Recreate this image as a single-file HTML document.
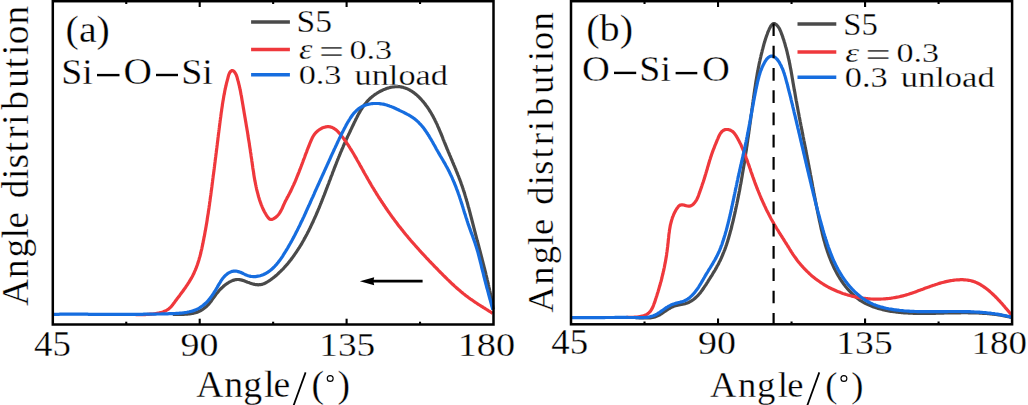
<!DOCTYPE html><html><head><meta charset="utf-8"><title>Angle distribution</title><style>html,body{margin:0;padding:0;background:#fff;overflow:hidden}svg{display:block}text{font-family:"Liberation Serif",serif;fill:#000;stroke:#fff;stroke-width:0.3px}</style></head><body>
<svg width="1028" height="405" viewBox="0 0 1028 405">
<rect width="1028" height="405" fill="#fff"/>
<g fill="none" stroke-width="3.20" stroke-linejoin="round" stroke-linecap="butt">
<path d="M172.8,314.3L174.0,314.3 175.3,314.3 176.5,314.3 177.7,314.3 178.9,314.3 180.1,314.3 181.3,314.3 182.5,314.3 183.7,314.3 185.0,314.2 186.2,314.2 187.3,314.1 188.5,314.0 189.7,313.8 190.9,313.7 192.0,313.5 193.2,313.3 194.3,313.0 195.4,312.7 196.6,312.4 197.7,312.0 198.7,311.5 199.8,311.0 200.8,310.5 201.9,309.9 202.9,309.2 203.9,308.5 204.8,307.8 205.8,307.0 206.7,306.2 207.5,305.4 208.4,304.5 209.2,303.6 209.9,302.7 210.7,301.8 211.4,300.8 212.0,299.9 212.7,298.9 213.4,297.9 214.1,297.0 214.8,296.0 215.5,295.0 216.2,294.1 217.0,293.1 217.8,292.2 218.6,291.2 219.4,290.3 220.2,289.4 221.1,288.5 222.0,287.7 222.9,286.9 223.8,286.0 224.7,285.3 225.7,284.5 226.7,283.8 227.7,283.2 228.7,282.5 229.7,281.9 230.8,281.4 231.8,280.9 232.9,280.4 234.0,280.1 235.1,279.8 236.2,279.6 237.3,279.5 238.4,279.5 239.5,279.6 240.7,279.8 241.8,280.1 242.9,280.4 244.1,280.8 245.2,281.3 246.4,281.7 247.6,282.2 248.8,282.6 249.9,283.0 251.1,283.4 252.3,283.8 253.5,284.1 254.7,284.4 255.9,284.6 257.0,284.7 258.2,284.8 259.3,284.7 260.5,284.6 261.6,284.4 262.7,284.1 263.8,283.7 264.9,283.2 265.9,282.7 267.0,282.1 268.0,281.5 269.0,280.9 270.0,280.2 271.0,279.5 272.0,278.7 273.0,278.0 274.0,277.2 274.9,276.5 275.8,275.7 276.8,274.9 277.7,274.1 278.6,273.3 279.4,272.4 280.3,271.6 281.2,270.8 282.0,269.9 282.9,269.1 283.7,268.2 284.5,267.3 285.3,266.4 286.1,265.5 286.9,264.6 287.7,263.7 288.4,262.8 289.2,261.9 289.9,260.9 290.7,260.0 291.4,259.0 292.1,258.1 292.8,257.1 293.5,256.1 294.2,255.2 294.9,254.2 295.6,253.2 296.3,252.2 296.9,251.2 297.6,250.2 298.2,249.2 298.9,248.2 299.5,247.2 300.1,246.2 300.8,245.1 301.4,244.1 302.0,243.1 302.6,242.0 303.2,241.0 303.8,240.0 304.3,238.9 304.9,237.9 305.5,236.8 306.1,235.8 306.6,234.7 307.2,233.7 307.7,232.6 308.3,231.5 308.8,230.5 309.3,229.4 309.9,228.3 310.4,227.3 310.9,226.2 311.4,225.1 311.9,224.0 312.4,222.9 313.0,221.9 313.4,220.8 313.9,219.7 314.4,218.6 314.9,217.5 315.4,216.4 315.9,215.3 316.4,214.2 316.8,213.1 317.3,212.0 317.8,210.9 318.2,209.8 318.7,208.7 319.2,207.6 319.6,206.5 320.1,205.3 320.5,204.2 321.0,203.1 321.4,202.0 321.9,200.9 322.3,199.8 322.7,198.7 323.2,197.5 323.6,196.4 324.1,195.3 324.5,194.2 324.9,193.1 325.4,191.9 325.8,190.8 326.2,189.7 326.6,188.6 327.1,187.4 327.5,186.3 327.9,185.2 328.4,184.1 328.8,183.0 329.2,181.8 329.6,180.7 330.1,179.6 330.5,178.5 330.9,177.3 331.3,176.2 331.8,175.1 332.2,174.0 332.6,172.8 333.0,171.7 333.5,170.6 333.9,169.5 334.3,168.4 334.8,167.2 335.2,166.1 335.6,165.0 336.1,163.9 336.5,162.8 336.9,161.7 337.4,160.5 337.8,159.4 338.3,158.3 338.7,157.2 339.2,156.1 339.6,155.0 340.1,153.9 340.5,152.8 341.0,151.7 341.5,150.6 341.9,149.5 342.4,148.4 342.9,147.3 343.3,146.2 343.8,145.1 344.3,144.0 344.8,142.9 345.3,141.9 345.8,140.8 346.2,139.7 346.7,138.6 347.2,137.5 347.7,136.4 348.2,135.4 348.7,134.3 349.3,133.2 349.8,132.1 350.3,131.0 350.8,129.9 351.3,128.9 351.8,127.8 352.3,126.7 352.9,125.6 353.4,124.5 353.9,123.4 354.4,122.3 355.0,121.2 355.5,120.1 356.0,119.0 356.6,117.9 357.1,116.9 357.7,115.8 358.2,114.7 358.8,113.6 359.4,112.6 360.0,111.6 360.6,110.5 361.2,109.5 361.9,108.5 362.5,107.5 363.2,106.5 363.9,105.6 364.6,104.6 365.3,103.7 366.1,102.8 366.8,101.9 367.6,101.0 368.4,100.2 369.2,99.3 370.1,98.5 370.9,97.7 371.8,97.0 372.7,96.2 373.7,95.5 374.6,94.8 375.6,94.1 376.6,93.5 377.6,92.8 378.7,92.2 379.7,91.6 380.8,91.0 382.0,90.5 383.1,89.9 384.2,89.4 385.4,89.0 386.6,88.5 387.8,88.1 389.0,87.8 390.2,87.4 391.4,87.2 392.6,86.9 393.8,86.8 395.0,86.6 396.2,86.6 397.3,86.6 398.5,86.6 399.7,86.7 400.8,86.9 401.9,87.1 403.0,87.3 404.1,87.7 405.2,88.0 406.3,88.4 407.4,88.9 408.4,89.4 409.4,89.9 410.5,90.5 411.5,91.1 412.4,91.7 413.4,92.4 414.4,93.1 415.3,93.9 416.3,94.6 417.2,95.4 418.1,96.3 419.0,97.1 419.8,98.0 420.7,98.9 421.5,99.8 422.3,100.7 423.1,101.6 423.9,102.6 424.7,103.5 425.4,104.5 426.1,105.5 426.9,106.5 427.6,107.4 428.2,108.4 428.9,109.4 429.5,110.5 430.2,111.5 430.8,112.5 431.4,113.5 432.0,114.6 432.6,115.6 433.2,116.7 433.7,117.7 434.3,118.8 434.8,119.8 435.3,120.9 435.9,122.0 436.4,123.1 436.9,124.1 437.4,125.2 437.8,126.3 438.3,127.4 438.8,128.5 439.3,129.6 439.7,130.7 440.2,131.8 440.7,132.9 441.1,134.0 441.6,135.1 442.0,136.2 442.5,137.3 442.9,138.5 443.3,139.6 443.8,140.7 444.2,141.8 444.7,142.9 445.1,144.0 445.6,145.1 446.0,146.2 446.5,147.4 446.9,148.5 447.4,149.6 447.9,150.7 448.3,151.8 448.8,152.9 449.3,154.0 449.7,155.1 450.2,156.2 450.7,157.3 451.1,158.4 451.6,159.5 452.1,160.6 452.5,161.8 453.0,162.9 453.5,164.0 453.9,165.1 454.4,166.2 454.9,167.3 455.3,168.4 455.8,169.5 456.2,170.6 456.7,171.7 457.1,172.9 457.6,174.0 458.0,175.1 458.5,176.2 458.9,177.3 459.3,178.4 459.8,179.6 460.2,180.7 460.6,181.8 461.0,182.9 461.4,184.1 461.8,185.2 462.2,186.3 462.6,187.5 463.0,188.6 463.3,189.7 463.7,190.9 464.1,192.0 464.4,193.1 464.8,194.3 465.1,195.4 465.5,196.6 465.8,197.7 466.2,198.9 466.5,200.0 466.8,201.2 467.2,202.3 467.5,203.5 467.8,204.6 468.1,205.8 468.4,207.0 468.8,208.1 469.1,209.3 469.4,210.4 469.7,211.6 470.0,212.7 470.3,213.9 470.6,215.1 470.9,216.2 471.2,217.4 471.5,218.5 471.8,219.7 472.1,220.9 472.4,222.0 472.7,223.2 473.0,224.4 473.3,225.5 473.6,226.7 473.9,227.8 474.2,229.0 474.5,230.2 474.8,231.3 475.1,232.5 475.4,233.6 475.7,234.8 476.0,236.0 476.3,237.1 476.6,238.3 476.9,239.4 477.2,240.6 477.6,241.8 477.9,242.9 478.2,244.1 478.5,245.2 478.8,246.4 479.1,247.6 479.4,248.7 479.7,249.9 480.0,251.0 480.3,252.2 480.6,253.4 480.9,254.5 481.2,255.7 481.5,256.8 481.8,258.0 482.1,259.2 482.4,260.3 482.7,261.5 483.0,262.6 483.3,263.8 483.6,265.0 483.9,266.1 484.2,267.3 484.5,268.5 484.8,269.6 485.1,270.8 485.4,271.9 485.7,273.1 485.9,274.3 486.2,275.4 486.5,276.6 486.8,277.8 487.1,278.9 487.3,280.1 487.6,281.3 487.9,282.4 488.2,283.6 488.4,284.8 488.7,285.9 488.9,287.1 489.2,288.3 489.5,289.5 489.7,290.6 490.0,291.8 490.2,293.0 490.4,294.2 490.7,295.3 490.9,296.5 491.2,297.7 491.4,298.9 491.6,300.0 491.8,301.2 492.1,302.4 492.3,303.6 492.5,304.8 492.7,305.9 492.9,307.1 493.1,308.3 493.3,309.5" stroke="#4a4a4a"/>
<path d="M135.6,314.7L136.8,314.7 138.0,314.7 139.2,314.7 140.4,314.7 141.6,314.7 142.8,314.6 144.0,314.6 145.2,314.6 146.4,314.5 147.6,314.4 148.8,314.3 150.0,314.2 151.2,314.1 152.4,314.0 153.6,313.9 154.7,313.7 155.9,313.5 157.1,313.3 158.3,313.1 159.4,312.9 160.6,312.6 161.7,312.3 162.9,311.9 163.9,311.5 165.0,311.1 166.0,310.6 167.0,310.0 168.0,309.4 168.9,308.7 169.8,307.9 170.7,307.1 171.5,306.2 172.3,305.3 173.0,304.3 173.8,303.3 174.5,302.3 175.2,301.3 176.0,300.3 176.7,299.3 177.5,298.3 178.2,297.3 178.9,296.4 179.7,295.4 180.4,294.4 181.1,293.4 181.8,292.5 182.6,291.5 183.3,290.5 184.0,289.5 184.7,288.6 185.4,287.6 186.0,286.6 186.7,285.6 187.4,284.6 188.0,283.6 188.7,282.6 189.3,281.6 189.9,280.6 190.5,279.6 191.1,278.6 191.7,277.6 192.3,276.5 192.8,275.5 193.3,274.4 193.9,273.4 194.3,272.3 194.8,271.2 195.3,270.1 195.7,269.0 196.2,267.9 196.6,266.8 197.0,265.7 197.4,264.6 197.8,263.4 198.2,262.3 198.5,261.2 198.9,260.0 199.2,258.9 199.5,257.7 199.9,256.5 200.2,255.4 200.5,254.2 200.8,253.0 201.0,251.8 201.3,250.7 201.6,249.5 201.9,248.3 202.1,247.1 202.4,245.9 202.6,244.7 202.9,243.5 203.1,242.4 203.3,241.2 203.6,240.0 203.8,238.8 204.0,237.6 204.3,236.4 204.5,235.2 204.7,234.1 204.9,232.9 205.1,231.7 205.4,230.5 205.6,229.3 205.8,228.1 206.0,227.0 206.2,225.8 206.4,224.6 206.6,223.4 206.8,222.2 207.0,221.0 207.2,219.9 207.3,218.7 207.5,217.5 207.7,216.3 207.9,215.1 208.1,214.0 208.3,212.8 208.4,211.6 208.6,210.4 208.8,209.2 209.0,208.0 209.1,206.9 209.3,205.7 209.5,204.5 209.6,203.3 209.8,202.1 210.0,200.9 210.1,199.8 210.3,198.6 210.4,197.4 210.6,196.2 210.8,195.0 210.9,193.8 211.1,192.7 211.2,191.5 211.4,190.3 211.6,189.1 211.7,187.9 211.9,186.7 212.0,185.5 212.2,184.3 212.3,183.2 212.5,182.0 212.6,180.8 212.8,179.6 212.9,178.4 213.1,177.2 213.2,176.0 213.4,174.8 213.6,173.6 213.7,172.4 213.9,171.3 214.0,170.1 214.2,168.9 214.3,167.7 214.5,166.5 214.6,165.3 214.8,164.1 214.9,162.9 215.1,161.7 215.2,160.5 215.4,159.3 215.5,158.1 215.7,157.0 215.8,155.8 216.0,154.6 216.1,153.4 216.3,152.2 216.4,151.0 216.6,149.8 216.7,148.6 216.9,147.4 217.0,146.2 217.2,145.0 217.3,143.8 217.5,142.6 217.6,141.4 217.8,140.3 217.9,139.1 218.0,137.9 218.2,136.7 218.3,135.5 218.5,134.3 218.6,133.1 218.8,131.9 218.9,130.7 219.1,129.5 219.2,128.4 219.4,127.2 219.5,126.0 219.7,124.8 219.8,123.6 220.0,122.4 220.1,121.2 220.3,120.0 220.4,118.9 220.6,117.7 220.8,116.5 220.9,115.3 221.1,114.1 221.2,112.9 221.4,111.7 221.6,110.6 221.7,109.4 221.9,108.2 222.1,107.0 222.3,105.8 222.4,104.6 222.6,103.4 222.8,102.3 223.0,101.1 223.2,99.9 223.4,98.7 223.6,97.5 223.8,96.3 224.0,95.1 224.3,94.0 224.5,92.8 224.7,91.6 224.9,90.4 225.2,89.2 225.4,88.1 225.7,86.9 226.0,85.7 226.2,84.6 226.5,83.4 226.8,82.2 227.1,81.1 227.4,79.9 227.7,78.8 228.0,77.6 228.3,76.4 228.6,75.3 229.0,74.2 229.5,73.1 230.1,72.0 231.0,71.1 232.1,70.5 233.1,70.8 234.1,71.6 234.9,72.6 235.6,73.7 236.2,74.8 236.6,75.9 237.0,77.0 237.3,78.1 237.6,79.3 237.9,80.4 238.3,81.6 238.5,82.7 238.8,83.9 239.1,85.1 239.4,86.2 239.6,87.4 239.9,88.6 240.1,89.7 240.4,90.9 240.6,92.1 240.8,93.3 241.0,94.4 241.3,95.6 241.5,96.8 241.7,98.0 241.9,99.2 242.1,100.4 242.3,101.5 242.5,102.7 242.7,103.9 242.9,105.1 243.1,106.3 243.3,107.5 243.5,108.6 243.7,109.8 243.9,111.0 244.1,112.2 244.3,113.4 244.5,114.6 244.7,115.7 244.9,116.9 245.1,118.1 245.3,119.3 245.5,120.5 245.7,121.6 245.9,122.8 246.1,124.0 246.3,125.2 246.5,126.4 246.7,127.6 246.9,128.7 247.1,129.9 247.3,131.1 247.5,132.3 247.7,133.5 247.9,134.7 248.0,135.8 248.2,137.0 248.4,138.2 248.6,139.4 248.8,140.6 249.0,141.7 249.2,142.9 249.4,144.1 249.5,145.3 249.7,146.5 249.9,147.7 250.1,148.9 250.3,150.0 250.4,151.2 250.6,152.4 250.8,153.6 251.0,154.8 251.1,156.0 251.3,157.2 251.5,158.4 251.7,159.5 251.8,160.7 252.0,161.9 252.2,163.1 252.3,164.3 252.5,165.5 252.7,166.7 252.8,167.9 253.0,169.1 253.2,170.3 253.4,171.4 253.6,172.6 253.7,173.8 253.9,175.0 254.1,176.2 254.3,177.4 254.5,178.6 254.7,179.7 254.9,180.9 255.2,182.1 255.4,183.3 255.6,184.4 255.9,185.6 256.1,186.8 256.4,187.9 256.6,189.1 256.9,190.3 257.2,191.4 257.5,192.6 257.8,193.7 258.1,194.9 258.4,196.0 258.7,197.2 259.1,198.3 259.4,199.5 259.8,200.6 260.2,201.7 260.6,202.9 261.0,204.0 261.4,205.1 261.9,206.2 262.3,207.3 262.8,208.4 263.3,209.5 263.8,210.6 264.4,211.7 265.0,212.7 265.6,213.8 266.2,214.8 266.9,215.9 267.6,216.9 268.3,217.9 269.1,218.7 270.0,219.3 271.0,219.5 272.2,219.4 273.3,218.9 274.5,218.2 275.6,217.4 276.6,216.6 277.4,215.8 278.3,214.8 279.0,213.9 279.7,212.9 280.3,211.9 280.9,210.9 281.4,209.8 282.0,208.7 282.5,207.7 282.9,206.6 283.4,205.5 283.9,204.4 284.4,203.3 284.9,202.2 285.5,201.1 286.0,200.1 286.6,199.0 287.1,197.9 287.7,196.9 288.3,195.8 288.8,194.8 289.4,193.7 289.9,192.6 290.5,191.6 291.0,190.5 291.5,189.4 292.0,188.3 292.5,187.2 293.0,186.1 293.5,185.1 294.0,184.0 294.5,182.9 295.0,181.8 295.5,180.7 295.9,179.6 296.4,178.4 296.8,177.3 297.3,176.2 297.7,175.1 298.2,174.0 298.6,172.9 299.1,171.8 299.5,170.6 299.9,169.5 300.4,168.4 300.8,167.3 301.2,166.2 301.6,165.0 302.1,163.9 302.5,162.8 302.9,161.7 303.3,160.5 303.7,159.4 304.2,158.3 304.6,157.2 305.0,156.0 305.4,154.9 305.8,153.8 306.3,152.7 306.7,151.6 307.1,150.4 307.5,149.3 308.0,148.2 308.4,147.1 308.9,146.0 309.3,144.9 309.7,143.8 310.2,142.7 310.6,141.6 311.1,140.5 311.6,139.4 312.1,138.3 312.6,137.3 313.2,136.2 313.8,135.2 314.5,134.3 315.3,133.3 316.1,132.4 316.9,131.6 317.9,130.7 318.9,130.0 319.9,129.3 321.1,128.6 322.2,128.0 323.4,127.6 324.6,127.2 325.8,126.9 326.9,126.7 328.1,126.6 329.2,126.7 330.3,126.9 331.4,127.2 332.4,127.6 333.4,128.1 334.3,128.7 335.3,129.3 336.2,130.1 337.1,130.8 338.0,131.7 338.8,132.6 339.6,133.5 340.4,134.5 341.2,135.4 342.0,136.4 342.8,137.4 343.5,138.4 344.2,139.4 345.0,140.4 345.7,141.4 346.4,142.4 347.0,143.4 347.7,144.4 348.4,145.4 349.0,146.4 349.7,147.4 350.3,148.5 350.9,149.5 351.6,150.5 352.2,151.5 352.8,152.5 353.4,153.5 354.0,154.5 354.6,155.6 355.2,156.6 355.8,157.6 356.4,158.6 356.9,159.7 357.5,160.7 358.1,161.7 358.7,162.7 359.3,163.8 359.8,164.8 360.4,165.9 361.0,166.9 361.6,167.9 362.2,169.0 362.8,170.0 363.3,171.1 363.9,172.1 364.5,173.2 365.1,174.2 365.7,175.3 366.3,176.3 366.9,177.4 367.5,178.4 368.1,179.5 368.7,180.5 369.3,181.6 369.9,182.6 370.5,183.6 371.1,184.7 371.7,185.7 372.3,186.8 373.0,187.8 373.6,188.8 374.2,189.9 374.8,190.9 375.5,191.9 376.1,192.9 376.7,194.0 377.4,195.0 378.0,196.0 378.6,197.0 379.3,198.0 379.9,199.0 380.6,200.0 381.2,201.0 381.9,202.0 382.6,203.0 383.2,204.0 383.9,205.0 384.6,206.0 385.2,207.0 385.9,208.0 386.6,209.0 387.3,210.0 387.9,211.0 388.6,211.9 389.3,212.9 390.0,213.9 390.7,214.9 391.4,215.8 392.1,216.8 392.8,217.8 393.5,218.7 394.2,219.7 394.9,220.7 395.7,221.6 396.4,222.6 397.1,223.5 397.8,224.5 398.5,225.4 399.3,226.4 400.0,227.3 400.8,228.3 401.5,229.2 402.2,230.1 403.0,231.1 403.7,232.0 404.5,232.9 405.3,233.9 406.0,234.8 406.8,235.7 407.5,236.6 408.3,237.6 409.1,238.5 409.9,239.4 410.6,240.3 411.4,241.2 412.2,242.1 413.0,243.0 413.8,243.9 414.6,244.8 415.4,245.7 416.2,246.6 417.0,247.5 417.8,248.4 418.6,249.3 419.4,250.2 420.2,251.1 421.0,252.0 421.8,252.9 422.6,253.8 423.5,254.6 424.3,255.5 425.1,256.4 425.9,257.3 426.7,258.2 427.6,259.0 428.4,259.9 429.2,260.8 430.0,261.6 430.9,262.5 431.7,263.4 432.5,264.2 433.4,265.1 434.2,266.0 435.0,266.8 435.9,267.7 436.7,268.5 437.6,269.4 438.4,270.3 439.2,271.1 440.1,272.0 440.9,272.8 441.8,273.7 442.6,274.5 443.4,275.4 444.3,276.2 445.1,277.0 446.0,277.9 446.8,278.7 447.7,279.6 448.6,280.4 449.4,281.2 450.3,282.0 451.1,282.9 452.0,283.7 452.9,284.5 453.8,285.3 454.6,286.1 455.5,286.9 456.4,287.7 457.3,288.5 458.2,289.3 459.1,290.1 460.0,290.8 460.9,291.6 461.8,292.4 462.8,293.1 463.7,293.9 464.6,294.6 465.6,295.4 466.5,296.1 467.5,296.8 468.4,297.5 469.4,298.2 470.4,299.0 471.4,299.6 472.4,300.3 473.4,301.0 474.4,301.7 475.4,302.4 476.4,303.0 477.4,303.7 478.4,304.4 479.4,305.0 480.5,305.7 481.5,306.3 482.5,306.9 483.5,307.6 484.5,308.2 485.6,308.9 486.6,309.5 487.6,310.1 488.6,310.8 489.6,311.4 490.6,312.0 491.6,312.7 492.6,313.3" stroke="#ef383c"/>
<path d="M52.8,314.3L54.0,314.3 55.2,314.3 56.4,314.3 57.6,314.3 58.8,314.3 60.0,314.2 61.2,314.2 62.4,314.2 63.6,314.2 64.8,314.2 66.0,314.2 67.2,314.2 68.4,314.2 69.6,314.2 70.8,314.2 72.0,314.2 73.2,314.2 74.4,314.2 75.6,314.2 76.8,314.2 78.0,314.2 79.2,314.2 80.4,314.2 81.6,314.2 82.7,314.2 83.9,314.2 85.1,314.2 86.3,314.2 87.5,314.2 88.7,314.3 89.9,314.3 91.1,314.3 92.3,314.3 93.5,314.3 94.7,314.3 95.9,314.3 97.1,314.3 98.3,314.3 99.5,314.3 100.7,314.3 101.9,314.3 103.1,314.3 104.3,314.3 105.5,314.3 106.7,314.3 107.9,314.3 109.1,314.3 110.3,314.3 111.5,314.3 112.7,314.3 113.9,314.3 115.1,314.3 116.3,314.3 117.5,314.4 118.7,314.4 119.9,314.4 121.1,314.4 122.3,314.4 123.5,314.4 124.7,314.4 125.9,314.3 127.1,314.3 128.3,314.3 129.5,314.3 130.7,314.3 131.9,314.3 133.1,314.3 134.3,314.3 135.5,314.3 136.7,314.3 137.9,314.3 139.1,314.3 140.3,314.3 141.5,314.3 142.7,314.3 143.9,314.2 145.1,314.2 146.3,314.2 147.5,314.2 148.7,314.2 149.8,314.2 151.0,314.1 152.2,314.1 153.4,314.1 154.6,314.1 155.8,314.1 157.0,314.0 158.2,314.0 159.4,314.0 160.6,314.0 161.8,313.9 163.0,313.9 164.2,313.9 165.4,313.8 166.6,313.8 167.8,313.8 169.0,313.7 170.2,313.7 171.4,313.6 172.6,313.6 173.8,313.6 175.0,313.5 176.2,313.4 177.4,313.4 178.6,313.3 179.8,313.2 180.9,313.1 182.1,313.0 183.3,312.8 184.5,312.7 185.7,312.5 186.9,312.3 188.1,312.0 189.2,311.8 190.4,311.5 191.6,311.2 192.8,310.9 193.9,310.5 195.0,310.1 196.1,309.6 197.2,309.1 198.3,308.6 199.3,308.0 200.3,307.3 201.3,306.7 202.3,306.0 203.2,305.3 204.1,304.5 205.0,303.7 205.9,302.9 206.8,302.1 207.6,301.2 208.4,300.3 209.2,299.4 209.9,298.5 210.6,297.6 211.3,296.6 212.0,295.6 212.7,294.6 213.4,293.6 214.0,292.6 214.6,291.6 215.3,290.6 215.9,289.6 216.5,288.5 217.1,287.5 217.7,286.4 218.3,285.4 218.9,284.4 219.5,283.3 220.2,282.3 220.8,281.2 221.5,280.2 222.2,279.2 222.9,278.2 223.7,277.3 224.5,276.4 225.3,275.5 226.3,274.7 227.2,273.9 228.2,273.2 229.3,272.6 230.3,272.1 231.4,271.6 232.5,271.3 233.7,271.1 234.8,271.0 235.9,271.1 237.0,271.3 238.1,271.6 239.3,271.9 240.4,272.3 241.5,272.8 242.6,273.3 243.8,273.9 244.9,274.4 246.1,274.9 247.2,275.4 248.4,275.8 249.6,276.1 250.8,276.4 252.0,276.5 253.2,276.6 254.4,276.6 255.6,276.6 256.7,276.4 257.9,276.2 259.1,276.0 260.2,275.7 261.4,275.3 262.5,274.9 263.6,274.5 264.6,274.0 265.6,273.5 266.7,272.9 267.6,272.3 268.6,271.7 269.5,271.0 270.5,270.3 271.4,269.6 272.2,268.8 273.1,268.0 273.9,267.2 274.8,266.3 275.6,265.4 276.4,264.6 277.1,263.6 277.9,262.7 278.6,261.8 279.4,260.8 280.1,259.8 280.8,258.8 281.5,257.8 282.2,256.8 282.9,255.8 283.5,254.7 284.2,253.7 284.8,252.6 285.5,251.6 286.1,250.5 286.8,249.5 287.4,248.5 288.0,247.4 288.6,246.4 289.2,245.3 289.8,244.2 290.4,243.2 291.0,242.1 291.6,241.1 292.2,240.0 292.7,239.0 293.3,237.9 293.9,236.9 294.4,235.8 295.0,234.7 295.5,233.7 296.1,232.6 296.6,231.5 297.2,230.5 297.7,229.4 298.2,228.4 298.7,227.3 299.3,226.2 299.8,225.2 300.3,224.1 300.8,223.0 301.3,221.9 301.9,220.9 302.4,219.8 302.9,218.7 303.4,217.6 303.9,216.6 304.4,215.5 304.9,214.4 305.4,213.3 305.9,212.3 306.3,211.2 306.8,210.1 307.3,209.0 307.8,207.9 308.3,206.8 308.8,205.8 309.3,204.7 309.8,203.6 310.3,202.5 310.7,201.4 311.2,200.3 311.7,199.2 312.2,198.1 312.7,197.1 313.2,196.0 313.7,194.9 314.2,193.8 314.6,192.7 315.1,191.6 315.6,190.5 316.1,189.4 316.6,188.3 317.1,187.2 317.6,186.1 318.1,185.0 318.6,183.9 319.1,182.8 319.6,181.7 320.1,180.6 320.6,179.5 321.1,178.4 321.6,177.3 322.1,176.2 322.6,175.1 323.1,174.0 323.6,172.9 324.1,171.8 324.6,170.7 325.1,169.6 325.6,168.5 326.1,167.4 326.6,166.3 327.1,165.2 327.6,164.1 328.1,163.0 328.6,161.9 329.1,160.8 329.6,159.8 330.1,158.7 330.5,157.6 331.0,156.5 331.5,155.4 332.0,154.3 332.5,153.2 333.0,152.2 333.5,151.1 334.0,150.0 334.5,148.9 335.0,147.9 335.5,146.8 336.0,145.7 336.5,144.7 337.0,143.6 337.5,142.5 338.0,141.4 338.5,140.4 339.0,139.3 339.5,138.2 340.0,137.2 340.5,136.1 341.1,135.1 341.6,134.0 342.1,132.9 342.7,131.9 343.2,130.8 343.8,129.7 344.3,128.6 344.9,127.6 345.5,126.5 346.0,125.4 346.6,124.4 347.2,123.3 347.8,122.2 348.5,121.1 349.1,120.1 349.8,119.0 350.4,118.0 351.1,117.0 351.8,116.0 352.5,115.0 353.3,114.0 354.0,113.1 354.8,112.2 355.7,111.4 356.5,110.5 357.4,109.8 358.3,109.0 359.2,108.3 360.2,107.7 361.1,107.1 362.2,106.5 363.2,106.0 364.3,105.6 365.4,105.1 366.5,104.8 367.6,104.5 368.8,104.2 370.0,104.0 371.1,103.8 372.3,103.6 373.5,103.5 374.7,103.5 375.9,103.5 377.2,103.5 378.4,103.5 379.6,103.6 380.8,103.8 382.0,104.0 383.2,104.2 384.3,104.4 385.5,104.7 386.7,105.0 387.8,105.4 388.9,105.8 390.0,106.2 391.2,106.6 392.3,107.1 393.4,107.5 394.5,108.0 395.6,108.5 396.6,109.0 397.7,109.5 398.8,110.0 399.9,110.6 401.0,111.1 402.1,111.6 403.2,112.1 404.3,112.7 405.3,113.2 406.4,113.8 407.5,114.4 408.5,114.9 409.6,115.5 410.6,116.2 411.6,116.8 412.6,117.4 413.5,118.1 414.5,118.8 415.4,119.6 416.3,120.3 417.2,121.1 418.1,121.9 418.9,122.7 419.7,123.6 420.5,124.4 421.3,125.3 422.1,126.2 422.8,127.1 423.6,128.1 424.3,129.0 425.0,130.0 425.7,131.0 426.4,131.9 427.0,133.0 427.7,134.0 428.3,135.0 429.0,136.0 429.6,137.1 430.2,138.1 430.9,139.2 431.5,140.2 432.1,141.3 432.7,142.3 433.3,143.4 433.9,144.5 434.5,145.5 435.1,146.6 435.6,147.6 436.2,148.7 436.8,149.7 437.4,150.8 438.0,151.8 438.6,152.9 439.2,153.9 439.8,154.9 440.4,156.0 441.0,157.0 441.6,158.0 442.2,159.0 442.8,160.0 443.4,161.1 444.0,162.1 444.6,163.1 445.2,164.1 445.7,165.2 446.3,166.2 446.9,167.2 447.4,168.3 448.0,169.3 448.5,170.4 449.1,171.4 449.6,172.5 450.1,173.6 450.6,174.7 451.2,175.8 451.7,176.9 452.2,177.9 452.6,179.1 453.1,180.2 453.6,181.3 454.1,182.4 454.5,183.5 455.0,184.6 455.4,185.7 455.9,186.9 456.3,188.0 456.7,189.1 457.2,190.3 457.6,191.4 458.0,192.5 458.4,193.7 458.8,194.8 459.2,195.9 459.6,197.1 459.9,198.2 460.3,199.3 460.7,200.5 461.1,201.6 461.4,202.8 461.8,203.9 462.2,205.0 462.5,206.2 462.9,207.3 463.2,208.4 463.6,209.6 463.9,210.7 464.3,211.9 464.6,213.0 465.0,214.1 465.4,215.3 465.7,216.4 466.1,217.6 466.5,218.7 466.8,219.8 467.2,221.0 467.6,222.1 467.9,223.2 468.3,224.4 468.7,225.5 469.1,226.6 469.5,227.7 469.9,228.9 470.3,230.0 470.7,231.1 471.1,232.2 471.5,233.4 472.0,234.5 472.4,235.6 472.8,236.8 473.2,237.9 473.6,239.0 474.0,240.1 474.4,241.3 474.8,242.4 475.2,243.5 475.5,244.7 475.9,245.8 476.3,247.0 476.6,248.1 477.0,249.3 477.3,250.4 477.7,251.5 478.0,252.7 478.3,253.9 478.6,255.0 478.9,256.2 479.2,257.3 479.5,258.5 479.8,259.6 480.1,260.8 480.4,262.0 480.7,263.1 481.0,264.3 481.3,265.5 481.5,266.6 481.8,267.8 482.1,269.0 482.4,270.1 482.7,271.3 483.0,272.4 483.3,273.6 483.6,274.8 483.8,275.9 484.1,277.1 484.4,278.2 484.7,279.4 485.0,280.6 485.3,281.7 485.6,282.9 485.9,284.1 486.2,285.2 486.5,286.4 486.8,287.5 487.1,288.7 487.5,289.8 487.8,291.0 488.1,292.2 488.4,293.3 488.7,294.5 489.0,295.6 489.3,296.8 489.6,297.9 489.9,299.1 490.3,300.3 490.6,301.4 490.9,302.6 491.2,303.7 491.5,304.9 491.8,306.0 492.2,307.2 492.5,308.3 492.8,309.5" stroke="#166ddf"/>
<path d="M635.8,317.7L637.0,317.7 638.2,317.7 639.4,317.8 640.6,317.8 641.9,317.9 643.1,317.9 644.3,318.0 645.5,318.0 646.7,318.0 647.9,318.0 649.1,317.9 650.3,317.8 651.5,317.7 652.6,317.5 653.8,317.2 654.9,316.9 656.0,316.5 657.1,316.1 658.2,315.6 659.2,315.1 660.3,314.5 661.3,313.8 662.3,313.2 663.3,312.5 664.3,311.8 665.3,311.1 666.3,310.4 667.3,309.8 668.3,309.1 669.3,308.5 670.3,308.0 671.3,307.4 672.3,306.9 673.3,306.5 674.4,306.1 675.5,305.7 676.6,305.4 677.8,305.1 679.0,304.9 680.2,304.7 681.4,304.5 682.7,304.2 683.9,304.0 685.1,303.7 686.3,303.3 687.4,302.9 688.5,302.5 689.5,302.0 690.5,301.4 691.5,300.8 692.5,300.2 693.5,299.5 694.4,298.8 695.3,298.0 696.1,297.2 697.0,296.4 697.8,295.6 698.6,294.7 699.4,293.8 700.1,292.9 700.9,291.9 701.6,290.9 702.3,290.0 703.0,289.0 703.7,288.0 704.4,286.9 705.1,285.9 705.8,284.9 706.5,283.8 707.1,282.8 707.8,281.8 708.4,280.7 709.1,279.7 709.7,278.7 710.4,277.7 711.0,276.6 711.7,275.6 712.3,274.6 712.9,273.5 713.5,272.5 714.2,271.5 714.8,270.5 715.4,269.4 716.0,268.4 716.6,267.3 717.1,266.3 717.7,265.3 718.3,264.2 718.8,263.2 719.3,262.1 719.9,261.0 720.4,260.0 720.9,258.9 721.4,257.8 721.9,256.7 722.3,255.6 722.8,254.5 723.2,253.4 723.7,252.3 724.1,251.2 724.6,250.1 725.0,249.0 725.4,247.9 725.8,246.8 726.2,245.6 726.6,244.5 726.9,243.4 727.3,242.2 727.7,241.1 728.0,239.9 728.4,238.8 728.7,237.6 729.0,236.5 729.4,235.3 729.7,234.2 730.0,233.0 730.3,231.9 730.6,230.7 731.0,229.5 731.3,228.4 731.6,227.2 731.8,226.0 732.1,224.9 732.4,223.7 732.7,222.5 733.0,221.4 733.3,220.2 733.5,219.0 733.8,217.9 734.1,216.7 734.3,215.5 734.6,214.3 734.9,213.2 735.1,212.0 735.4,210.8 735.6,209.6 735.9,208.5 736.1,207.3 736.4,206.1 736.6,204.9 736.9,203.8 737.1,202.6 737.4,201.4 737.6,200.2 737.8,199.1 738.1,197.9 738.3,196.7 738.5,195.5 738.8,194.4 739.0,193.2 739.2,192.0 739.5,190.8 739.7,189.7 739.9,188.5 740.1,187.3 740.3,186.1 740.5,184.9 740.8,183.8 741.0,182.6 741.2,181.4 741.4,180.2 741.6,179.0 741.8,177.9 742.0,176.7 742.2,175.5 742.4,174.3 742.6,173.1 742.8,172.0 743.0,170.8 743.2,169.6 743.4,168.4 743.6,167.2 743.8,166.0 744.0,164.9 744.2,163.7 744.4,162.5 744.5,161.3 744.7,160.1 744.9,159.0 745.1,157.8 745.3,156.6 745.5,155.4 745.6,154.2 745.8,153.0 746.0,151.8 746.2,150.7 746.4,149.5 746.5,148.3 746.7,147.1 746.9,145.9 747.1,144.7 747.2,143.6 747.4,142.4 747.6,141.2 747.7,140.0 747.9,138.8 748.1,137.6 748.3,136.4 748.4,135.3 748.6,134.1 748.8,132.9 748.9,131.7 749.1,130.5 749.3,129.3 749.4,128.1 749.6,126.9 749.7,125.8 749.9,124.6 750.1,123.4 750.2,122.2 750.4,121.0 750.6,119.8 750.7,118.6 750.9,117.4 751.0,116.2 751.2,115.1 751.4,113.9 751.5,112.7 751.7,111.5 751.8,110.3 752.0,109.1 752.2,107.9 752.3,106.7 752.5,105.5 752.6,104.4 752.8,103.2 753.0,102.0 753.1,100.8 753.3,99.6 753.5,98.4 753.6,97.2 753.8,96.0 754.0,94.9 754.1,93.7 754.3,92.5 754.5,91.3 754.6,90.1 754.8,88.9 755.0,87.7 755.2,86.5 755.4,85.4 755.5,84.2 755.7,83.0 755.9,81.8 756.1,80.6 756.3,79.4 756.5,78.3 756.7,77.1 756.9,75.9 757.1,74.7 757.3,73.5 757.5,72.4 757.8,71.2 758.0,70.0 758.2,68.8 758.4,67.7 758.7,66.5 758.9,65.3 759.1,64.1 759.4,63.0 759.6,61.8 759.9,60.6 760.1,59.5 760.4,58.3 760.7,57.1 760.9,56.0 761.2,54.8 761.5,53.6 761.8,52.5 762.1,51.3 762.3,50.2 762.7,49.0 763.0,47.8 763.3,46.7 763.6,45.5 763.9,44.4 764.2,43.2 764.6,42.1 764.9,41.0 765.3,39.8 765.6,38.7 766.0,37.5 766.4,36.4 766.8,35.3 767.2,34.2 767.6,33.0 768.0,31.9 768.5,30.8 769.0,29.7 769.5,28.5 770.1,27.4 770.7,26.3 771.5,25.2 772.3,24.3 773.1,23.7 774.1,23.6 775.1,23.9 776.1,24.5 777.0,25.4 777.9,26.3 778.6,27.4 779.3,28.4 779.8,29.5 780.3,30.6 780.8,31.7 781.2,32.8 781.6,34.0 782.1,35.1 782.5,36.2 782.8,37.4 783.2,38.5 783.6,39.6 784.0,40.8 784.3,41.9 784.7,43.1 785.0,44.2 785.3,45.4 785.6,46.5 786.0,47.7 786.3,48.8 786.6,50.0 786.9,51.2 787.2,52.3 787.4,53.5 787.7,54.6 788.0,55.8 788.2,57.0 788.5,58.1 788.8,59.3 789.0,60.5 789.3,61.7 789.5,62.8 789.7,64.0 790.0,65.2 790.2,66.4 790.4,67.5 790.6,68.7 790.9,69.9 791.1,71.1 791.3,72.2 791.5,73.4 791.7,74.6 791.9,75.8 792.1,77.0 792.3,78.2 792.5,79.3 792.7,80.5 792.9,81.7 793.1,82.9 793.3,84.1 793.5,85.2 793.7,86.4 793.9,87.6 794.1,88.8 794.3,90.0 794.6,91.2 794.8,92.3 795.0,93.5 795.2,94.7 795.4,95.9 795.6,97.1 795.8,98.2 796.0,99.4 796.2,100.6 796.5,101.8 796.7,103.0 796.9,104.1 797.1,105.3 797.3,106.5 797.6,107.7 797.8,108.9 798.0,110.0 798.2,111.2 798.4,112.4 798.7,113.6 798.9,114.7 799.1,115.9 799.3,117.1 799.6,118.3 799.8,119.5 800.0,120.6 800.2,121.8 800.5,123.0 800.7,124.2 800.9,125.3 801.2,126.5 801.4,127.7 801.6,128.9 801.9,130.0 802.1,131.2 802.3,132.4 802.6,133.6 802.8,134.7 803.0,135.9 803.2,137.1 803.5,138.3 803.7,139.5 803.9,140.6 804.2,141.8 804.4,143.0 804.6,144.2 804.9,145.3 805.1,146.5 805.3,147.7 805.6,148.9 805.8,150.0 806.0,151.2 806.3,152.4 806.5,153.6 806.7,154.7 806.9,155.9 807.2,157.1 807.4,158.3 807.6,159.5 807.9,160.6 808.1,161.8 808.3,163.0 808.5,164.2 808.8,165.3 809.0,166.5 809.2,167.7 809.4,168.9 809.7,170.1 809.9,171.2 810.1,172.4 810.3,173.6 810.5,174.8 810.8,175.9 811.0,177.1 811.2,178.3 811.4,179.5 811.6,180.7 811.9,181.8 812.1,183.0 812.3,184.2 812.5,185.4 812.7,186.6 813.0,187.7 813.2,188.9 813.4,190.1 813.6,191.3 813.8,192.4 814.1,193.6 814.3,194.8 814.5,196.0 814.7,197.2 815.0,198.3 815.2,199.5 815.4,200.7 815.6,201.9 815.9,203.0 816.1,204.2 816.3,205.4 816.6,206.6 816.8,207.7 817.0,208.9 817.3,210.1 817.5,211.3 817.7,212.4 818.0,213.6 818.2,214.8 818.5,216.0 818.7,217.1 819.0,218.3 819.2,219.5 819.4,220.7 819.7,221.8 820.0,223.0 820.2,224.2 820.5,225.3 820.7,226.5 821.0,227.7 821.2,228.9 821.5,230.0 821.8,231.2 822.1,232.4 822.3,233.5 822.6,234.7 822.9,235.8 823.2,237.0 823.5,238.2 823.8,239.3 824.1,240.5 824.5,241.6 824.8,242.8 825.1,243.9 825.4,245.1 825.8,246.2 826.1,247.4 826.5,248.5 826.9,249.6 827.2,250.8 827.6,251.9 828.0,253.0 828.4,254.2 828.8,255.3 829.2,256.4 829.6,257.5 830.1,258.7 830.5,259.8 831.0,260.9 831.4,262.0 831.9,263.1 832.4,264.2 832.9,265.3 833.4,266.4 833.9,267.5 834.4,268.6 835.0,269.6 835.5,270.7 836.1,271.8 836.6,272.8 837.2,273.9 837.8,274.9 838.4,276.0 839.0,277.0 839.6,278.0 840.3,279.0 840.9,280.0 841.6,281.0 842.3,282.0 843.0,283.0 843.7,284.0 844.4,284.9 845.1,285.9 845.8,286.8 846.6,287.7 847.3,288.6 848.1,289.5 848.9,290.4 849.7,291.3 850.5,292.2 851.4,293.0 852.2,293.9 853.1,294.7 853.9,295.5 854.8,296.3 855.7,297.0 856.7,297.8 857.6,298.5 858.6,299.2 859.5,299.9 860.5,300.6 861.5,301.2 862.6,301.8 863.6,302.4 864.7,303.0 865.8,303.6 866.8,304.1 867.9,304.6 869.1,305.1 870.2,305.6 871.3,306.0 872.4,306.4 873.6,306.9 874.7,307.3 875.8,307.6 877.0,308.0 878.1,308.4 879.3,308.7 880.4,309.0 881.6,309.3 882.7,309.6 883.9,309.9 885.1,310.1 886.2,310.4 887.4,310.6 888.6,310.9 889.7,311.1 890.9,311.3 892.1,311.5 893.3,311.6 894.4,311.8 895.6,312.0 896.8,312.1 898.0,312.2 899.2,312.4 900.4,312.5 901.6,312.6 902.8,312.7 904.0,312.8 905.1,312.9 906.3,312.9 907.5,313.0 908.7,313.1 909.9,313.1 911.1,313.2 912.3,313.2 913.5,313.3 914.7,313.3 915.9,313.3 917.1,313.3 918.3,313.4 919.5,313.4 920.7,313.4 921.9,313.4 923.1,313.4 924.3,313.4 925.5,313.4 926.7,313.4 927.9,313.4 929.1,313.4 930.3,313.3 931.5,313.3 932.7,313.3 933.9,313.3 935.1,313.3 936.3,313.2 937.5,313.2 938.7,313.2 939.9,313.2 941.1,313.1 942.3,313.1 943.5,313.1 944.7,313.0 945.9,313.0 947.1,313.0 948.3,313.0 949.5,312.9 950.7,312.9 951.9,312.9 953.1,312.9 954.3,312.8 955.5,312.8 956.7,312.8 957.9,312.8 959.1,312.8 960.3,312.8 961.5,312.7 962.7,312.7 963.9,312.7 965.1,312.7 966.3,312.7 967.5,312.7 968.7,312.8 969.9,312.8 971.1,312.8 972.3,312.8 973.5,312.8 974.7,312.9 975.9,312.9 977.1,313.0 978.3,313.0 979.5,313.1 980.7,313.1 981.9,313.2 983.0,313.3 984.2,313.3 985.4,313.4 986.6,313.5 987.8,313.6 989.0,313.7 990.2,313.8 991.4,314.0 992.6,314.1 993.8,314.2 994.9,314.4 996.1,314.5 997.3,314.7 998.5,314.9 999.7,315.0 1000.9,315.2 1002.1,315.4 1003.2,315.6 1004.4,315.9 1005.6,316.1 1006.8,316.3 1008.0,316.6 1009.1,316.8 1010.3,317.1 1011.5,317.4" stroke="#4a4a4a"/>
<path d="M621.0,317.5L622.2,317.5 623.4,317.5 624.6,317.5 625.8,317.5 627.1,317.4 628.3,317.4 629.6,317.4 630.8,317.3 632.1,317.3 633.4,317.3 634.7,317.2 636.0,317.1 637.2,317.0 638.5,316.8 639.7,316.7 640.9,316.4 642.1,316.2 643.2,315.9 644.3,315.5 645.4,315.1 646.4,314.6 647.3,314.0 648.2,313.4 649.0,312.7 649.8,311.9 650.5,311.0 651.1,310.1 651.7,309.1 652.3,308.1 652.8,307.0 653.3,305.9 653.7,304.8 654.1,303.6 654.6,302.5 655.0,301.3 655.4,300.1 655.7,298.9 656.1,297.8 656.5,296.6 656.9,295.4 657.2,294.3 657.6,293.1 658.0,291.9 658.3,290.8 658.7,289.6 659.0,288.4 659.3,287.3 659.7,286.1 660.0,285.0 660.3,283.8 660.6,282.6 661.0,281.5 661.3,280.3 661.6,279.2 661.9,278.0 662.1,276.9 662.4,275.7 662.7,274.5 663.0,273.4 663.2,272.2 663.5,271.1 663.8,269.9 664.0,268.7 664.3,267.6 664.5,266.4 664.7,265.2 664.9,264.1 665.2,262.9 665.4,261.7 665.6,260.6 665.8,259.4 666.0,258.2 666.2,257.1 666.4,255.9 666.6,254.7 666.7,253.5 666.9,252.3 667.1,251.2 667.2,250.0 667.4,248.8 667.5,247.6 667.7,246.4 667.8,245.2 667.9,244.0 668.1,242.8 668.2,241.6 668.3,240.4 668.4,239.2 668.6,238.0 668.7,236.8 668.8,235.6 668.9,234.4 669.1,233.2 669.3,232.0 669.4,230.8 669.6,229.6 669.8,228.5 670.0,227.3 670.2,226.1 670.4,224.9 670.7,223.8 671.0,222.6 671.3,221.5 671.6,220.3 672.0,219.2 672.3,218.0 672.7,216.9 673.2,215.8 673.6,214.7 674.1,213.6 674.6,212.5 675.2,211.4 675.8,210.3 676.4,209.3 677.1,208.2 677.9,207.2 678.6,206.2 679.5,205.5 680.4,205.0 681.5,204.8 682.6,204.8 683.7,205.0 685.0,205.4 686.2,205.7 687.4,206.0 688.6,206.2 689.8,206.1 690.9,205.8 692.0,205.2 693.0,204.5 693.8,203.6 694.7,202.7 695.4,201.7 696.1,200.7 696.7,199.7 697.2,198.6 697.7,197.5 698.2,196.4 698.6,195.3 699.0,194.1 699.4,193.0 699.8,191.9 700.2,190.7 700.6,189.6 701.0,188.5 701.4,187.4 701.8,186.2 702.1,185.1 702.5,184.0 702.9,182.9 703.3,181.8 703.7,180.6 704.0,179.5 704.4,178.4 704.7,177.2 705.1,176.1 705.4,174.9 705.8,173.7 706.1,172.6 706.5,171.4 706.8,170.2 707.2,169.1 707.5,167.9 707.8,166.7 708.2,165.6 708.5,164.4 708.9,163.3 709.2,162.1 709.5,161.0 709.9,159.8 710.3,158.7 710.6,157.5 711.0,156.4 711.4,155.3 711.7,154.2 712.1,153.1 712.5,152.0 712.9,150.9 713.3,149.8 713.8,148.7 714.2,147.6 714.6,146.5 715.0,145.4 715.5,144.3 716.0,143.2 716.4,142.1 716.9,140.9 717.4,139.7 717.9,138.6 718.4,137.4 718.9,136.2 719.5,135.0 720.1,133.9 720.8,132.9 721.5,132.0 722.3,131.2 723.2,130.5 724.2,130.0 725.2,129.6 726.4,129.5 727.6,129.5 728.8,129.7 729.9,130.0 730.9,130.5 731.9,131.1 732.8,131.7 733.6,132.5 734.4,133.4 735.1,134.3 735.8,135.3 736.5,136.4 737.1,137.5 737.7,138.6 738.3,139.7 738.9,140.8 739.5,141.9 740.0,143.0 740.6,144.1 741.1,145.2 741.6,146.4 742.1,147.5 742.6,148.6 743.0,149.7 743.5,150.8 744.0,152.0 744.4,153.1 744.9,154.2 745.3,155.3 745.7,156.4 746.1,157.6 746.5,158.7 746.9,159.8 747.3,160.9 747.7,162.0 748.1,163.2 748.5,164.3 748.9,165.4 749.3,166.5 749.7,167.7 750.1,168.8 750.5,169.9 750.8,171.0 751.2,172.2 751.6,173.3 752.0,174.4 752.4,175.5 752.8,176.7 753.2,177.8 753.6,178.9 754.0,180.0 754.4,181.1 754.8,182.3 755.2,183.4 755.6,184.5 756.1,185.6 756.5,186.7 756.9,187.9 757.4,189.0 757.8,190.1 758.3,191.2 758.7,192.3 759.2,193.4 759.6,194.5 760.1,195.7 760.6,196.8 761.0,197.9 761.5,199.0 762.0,200.1 762.5,201.2 763.0,202.3 763.5,203.4 764.0,204.5 764.5,205.6 765.0,206.6 765.5,207.7 766.0,208.8 766.5,209.9 767.1,211.0 767.6,212.0 768.2,213.1 768.7,214.2 769.3,215.2 769.8,216.3 770.4,217.4 770.9,218.4 771.5,219.5 772.1,220.5 772.7,221.6 773.3,222.6 773.9,223.7 774.5,224.7 775.1,225.7 775.7,226.7 776.3,227.8 776.9,228.8 777.6,229.8 778.2,230.8 778.8,231.8 779.4,232.9 780.1,233.9 780.7,234.9 781.4,235.9 782.0,236.9 782.6,237.9 783.3,238.9 783.9,239.9 784.5,240.9 785.2,242.0 785.8,243.0 786.5,244.0 787.1,245.0 787.7,246.0 788.4,247.0 789.0,248.0 789.6,249.1 790.3,250.1 790.9,251.1 791.5,252.1 792.2,253.1 792.8,254.1 793.5,255.1 794.2,256.1 794.9,257.1 795.6,258.0 796.3,259.0 797.0,260.0 797.7,260.9 798.5,261.9 799.2,262.8 800.0,263.7 800.7,264.6 801.5,265.5 802.3,266.4 803.1,267.3 803.9,268.2 804.8,269.1 805.6,269.9 806.4,270.8 807.3,271.6 808.2,272.4 809.0,273.3 809.9,274.1 810.8,274.9 811.7,275.7 812.6,276.4 813.6,277.2 814.5,277.9 815.4,278.7 816.4,279.4 817.3,280.1 818.3,280.8 819.3,281.5 820.3,282.2 821.3,282.9 822.3,283.5 823.3,284.2 824.3,284.8 825.3,285.4 826.4,286.0 827.4,286.6 828.5,287.2 829.5,287.7 830.6,288.3 831.6,288.8 832.7,289.3 833.8,289.8 834.9,290.3 836.0,290.8 837.1,291.3 838.2,291.7 839.3,292.1 840.5,292.6 841.6,293.0 842.7,293.4 843.9,293.8 845.0,294.1 846.1,294.5 847.3,294.8 848.4,295.2 849.6,295.5 850.8,295.8 851.9,296.1 853.1,296.4 854.3,296.6 855.4,296.9 856.6,297.1 857.8,297.3 859.0,297.6 860.2,297.8 861.3,297.9 862.5,298.1 863.7,298.3 864.9,298.4 866.1,298.6 867.3,298.7 868.5,298.8 869.7,298.9 870.9,299.0 872.1,299.0 873.3,299.1 874.5,299.1 875.7,299.1 876.9,299.1 878.1,299.1 879.3,299.1 880.5,299.1 881.7,299.0 882.9,299.0 884.0,298.9 885.2,298.8 886.4,298.7 887.6,298.6 888.8,298.5 890.0,298.3 891.2,298.2 892.4,298.0 893.5,297.8 894.7,297.6 895.9,297.4 897.1,297.2 898.2,297.0 899.4,296.7 900.6,296.4 901.7,296.1 902.9,295.9 904.0,295.5 905.2,295.2 906.3,294.9 907.4,294.5 908.6,294.2 909.7,293.8 910.9,293.4 912.0,293.1 913.1,292.7 914.3,292.3 915.4,291.9 916.5,291.5 917.6,291.1 918.8,290.6 919.9,290.2 921.0,289.8 922.1,289.4 923.3,289.0 924.4,288.5 925.5,288.1 926.6,287.7 927.8,287.3 928.9,286.9 930.0,286.5 931.2,286.1 932.3,285.7 933.4,285.3 934.6,284.9 935.7,284.5 936.8,284.2 938.0,283.8 939.1,283.4 940.3,283.1 941.4,282.8 942.6,282.5 943.7,282.2 944.9,281.9 946.1,281.6 947.2,281.3 948.4,281.1 949.6,280.9 950.8,280.7 951.9,280.5 953.1,280.3 954.3,280.1 955.5,280.0 956.7,279.9 957.9,279.8 959.2,279.8 960.4,279.7 961.6,279.7 962.8,279.7 964.0,279.8 965.2,279.9 966.4,280.0 967.6,280.1 968.8,280.3 969.9,280.5 971.1,280.8 972.2,281.1 973.4,281.4 974.5,281.8 975.6,282.3 976.7,282.7 977.8,283.2 978.8,283.8 979.9,284.3 980.9,284.9 981.9,285.6 982.9,286.2 983.9,286.9 984.9,287.6 985.9,288.3 986.8,289.0 987.8,289.8 988.7,290.5 989.6,291.3 990.5,292.1 991.4,292.9 992.3,293.7 993.2,294.5 994.0,295.3 994.9,296.2 995.7,297.0 996.6,297.9 997.4,298.7 998.2,299.6 999.1,300.5 999.9,301.4 1000.7,302.3 1001.5,303.1 1002.3,304.0 1003.1,305.0 1003.9,305.9 1004.7,306.8 1005.4,307.7 1006.2,308.6 1007.0,309.5 1007.8,310.4 1008.5,311.3 1009.3,312.3 1010.1,313.2 1010.8,314.1 1011.6,315.0" stroke="#ef383c"/>
<path d="M571.0,317.6L572.2,317.6 573.4,317.6 574.6,317.7 575.9,317.7 577.1,317.7 578.3,317.7 579.5,317.7 580.7,317.7 581.9,317.7 583.1,317.7 584.3,317.7 585.5,317.7 586.7,317.7 587.9,317.7 589.1,317.7 590.3,317.7 591.4,317.7 592.6,317.7 593.8,317.7 595.0,317.7 596.2,317.6 597.4,317.6 598.6,317.6 599.8,317.6 601.0,317.6 602.2,317.6 603.3,317.6 604.5,317.6 605.7,317.5 606.9,317.5 608.1,317.5 609.3,317.5 610.5,317.5 611.7,317.5 612.9,317.5 614.1,317.5 615.3,317.4 616.5,317.4 617.7,317.4 618.9,317.4 620.1,317.4 621.3,317.4 622.5,317.4 623.7,317.4 624.9,317.4 626.1,317.4 627.3,317.4 628.5,317.5 629.7,317.5 630.9,317.5 632.1,317.5 633.4,317.5 634.6,317.5 635.8,317.6 637.0,317.6 638.3,317.6 639.5,317.6 640.7,317.6 641.9,317.6 643.1,317.6 644.3,317.5 645.5,317.4 646.7,317.3 647.9,317.2 649.1,317.0 650.2,316.7 651.3,316.4 652.4,316.1 653.5,315.7 654.6,315.2 655.7,314.7 656.7,314.2 657.7,313.6 658.7,312.9 659.7,312.3 660.7,311.6 661.7,310.9 662.7,310.2 663.7,309.5 664.7,308.8 665.7,308.1 666.7,307.4 667.8,306.8 668.8,306.1 669.9,305.6 670.9,305.0 672.0,304.6 673.1,304.1 674.3,303.8 675.4,303.4 676.6,303.1 677.8,302.8 678.9,302.5 680.1,302.2 681.2,301.9 682.4,301.6 683.5,301.2 684.6,300.7 685.6,300.2 686.6,299.7 687.6,299.1 688.6,298.4 689.5,297.7 690.4,296.9 691.3,296.1 692.2,295.3 693.0,294.4 693.8,293.5 694.6,292.6 695.3,291.7 696.0,290.7 696.7,289.8 697.4,288.8 698.1,287.8 698.8,286.8 699.4,285.8 700.0,284.8 700.7,283.7 701.3,282.7 701.9,281.6 702.5,280.6 703.1,279.6 703.7,278.5 704.3,277.5 704.9,276.4 705.5,275.4 706.1,274.4 706.7,273.3 707.4,272.3 708.0,271.3 708.6,270.2 709.3,269.2 709.9,268.2 710.5,267.2 711.1,266.2 711.8,265.1 712.4,264.1 713.0,263.1 713.6,262.0 714.2,261.0 714.8,260.0 715.4,258.9 716.0,257.9 716.5,256.8 717.1,255.8 717.6,254.7 718.1,253.6 718.6,252.5 719.1,251.5 719.6,250.4 720.0,249.3 720.5,248.1 720.9,247.0 721.3,245.9 721.8,244.8 722.2,243.7 722.5,242.5 722.9,241.4 723.3,240.2 723.7,239.1 724.0,238.0 724.4,236.8 724.7,235.7 725.1,234.5 725.4,233.3 725.7,232.2 726.1,231.0 726.4,229.9 726.7,228.7 727.0,227.6 727.3,226.4 727.6,225.2 727.9,224.1 728.2,222.9 728.5,221.7 728.8,220.6 729.1,219.4 729.3,218.2 729.6,217.1 729.9,215.9 730.2,214.7 730.4,213.6 730.7,212.4 731.0,211.2 731.2,210.1 731.5,208.9 731.7,207.7 732.0,206.5 732.2,205.4 732.5,204.2 732.7,203.0 733.0,201.9 733.2,200.7 733.5,199.5 733.7,198.3 734.0,197.2 734.2,196.0 734.4,194.8 734.7,193.6 734.9,192.5 735.2,191.3 735.4,190.1 735.7,189.0 735.9,187.8 736.2,186.6 736.4,185.4 736.7,184.3 736.9,183.1 737.2,181.9 737.4,180.7 737.7,179.6 737.9,178.4 738.2,177.2 738.4,176.1 738.7,174.9 739.0,173.7 739.2,172.6 739.5,171.4 739.8,170.2 740.0,169.0 740.3,167.9 740.5,166.7 740.8,165.5 741.1,164.4 741.3,163.2 741.6,162.0 741.9,160.9 742.1,159.7 742.4,158.5 742.7,157.4 742.9,156.2 743.2,155.0 743.4,153.8 743.7,152.7 744.0,151.5 744.2,150.3 744.5,149.2 744.7,148.0 745.0,146.8 745.2,145.7 745.5,144.5 745.7,143.3 746.0,142.1 746.2,141.0 746.5,139.8 746.7,138.6 746.9,137.4 747.2,136.3 747.4,135.1 747.6,133.9 747.9,132.7 748.1,131.6 748.3,130.4 748.6,129.2 748.8,128.0 749.0,126.8 749.2,125.7 749.4,124.5 749.7,123.3 749.9,122.1 750.1,120.9 750.3,119.8 750.5,118.6 750.7,117.4 750.9,116.2 751.2,115.0 751.4,113.8 751.6,112.7 751.8,111.5 752.0,110.3 752.2,109.1 752.4,107.9 752.7,106.8 752.9,105.6 753.1,104.4 753.3,103.2 753.5,102.1 753.7,100.9 754.0,99.7 754.2,98.5 754.4,97.4 754.6,96.2 754.9,95.0 755.1,93.8 755.3,92.7 755.6,91.5 755.8,90.3 756.0,89.1 756.3,88.0 756.5,86.8 756.8,85.6 757.0,84.5 757.3,83.3 757.5,82.1 757.8,81.0 758.1,79.8 758.4,78.7 758.7,77.5 759.0,76.4 759.3,75.2 759.7,74.1 760.0,72.9 760.4,71.8 760.8,70.6 761.3,69.5 761.7,68.4 762.2,67.2 762.7,66.1 763.2,65.0 763.8,63.9 764.4,62.8 765.0,61.7 765.7,60.6 766.4,59.6 767.2,58.6 768.0,57.8 768.8,57.1 769.7,56.6 770.7,56.2 771.7,56.1 772.7,56.2 773.7,56.6 774.7,57.1 775.6,57.8 776.4,58.6 777.3,59.5 778.0,60.5 778.8,61.6 779.5,62.7 780.1,63.9 780.7,65.0 781.3,66.1 781.8,67.3 782.3,68.4 782.8,69.5 783.2,70.6 783.6,71.8 784.0,72.9 784.4,74.0 784.7,75.2 785.1,76.3 785.4,77.4 785.7,78.5 786.0,79.7 786.3,80.8 786.6,81.9 786.9,83.1 787.3,84.2 787.6,85.4 787.8,86.5 788.1,87.7 788.4,88.8 788.7,90.0 789.0,91.1 789.3,92.3 789.6,93.4 789.9,94.6 790.2,95.8 790.5,96.9 790.8,98.1 791.0,99.3 791.3,100.4 791.6,101.6 791.9,102.8 792.2,103.9 792.5,105.1 792.7,106.3 793.0,107.4 793.3,108.6 793.6,109.8 793.9,110.9 794.1,112.1 794.4,113.3 794.7,114.5 795.0,115.6 795.3,116.8 795.5,118.0 795.8,119.1 796.1,120.3 796.4,121.5 796.6,122.7 796.9,123.8 797.2,125.0 797.5,126.2 797.7,127.3 798.0,128.5 798.3,129.7 798.6,130.8 798.8,132.0 799.1,133.2 799.4,134.3 799.7,135.5 799.9,136.7 800.2,137.9 800.5,139.0 800.7,140.2 801.0,141.4 801.3,142.5 801.6,143.7 801.8,144.9 802.1,146.0 802.4,147.2 802.7,148.4 802.9,149.5 803.2,150.7 803.5,151.9 803.7,153.0 804.0,154.2 804.3,155.4 804.6,156.5 804.8,157.7 805.1,158.9 805.4,160.0 805.7,161.2 805.9,162.4 806.2,163.5 806.5,164.7 806.7,165.9 807.0,167.0 807.3,168.2 807.6,169.4 807.8,170.5 808.1,171.7 808.4,172.9 808.7,174.0 808.9,175.2 809.2,176.4 809.5,177.5 809.8,178.7 810.1,179.9 810.3,181.0 810.6,182.2 810.9,183.3 811.2,184.5 811.4,185.7 811.7,186.8 812.0,188.0 812.3,189.2 812.6,190.3 812.9,191.5 813.1,192.6 813.4,193.8 813.7,195.0 814.0,196.1 814.3,197.3 814.6,198.5 814.9,199.6 815.2,200.8 815.4,201.9 815.7,203.1 816.0,204.3 816.3,205.4 816.6,206.6 816.9,207.7 817.2,208.9 817.5,210.1 817.8,211.2 818.1,212.4 818.4,213.5 818.8,214.7 819.1,215.9 819.4,217.0 819.7,218.2 820.0,219.3 820.3,220.5 820.6,221.6 821.0,222.8 821.3,224.0 821.6,225.1 821.9,226.3 822.3,227.4 822.6,228.6 822.9,229.7 823.3,230.9 823.6,232.1 823.9,233.2 824.3,234.4 824.6,235.5 825.0,236.7 825.3,237.8 825.7,239.0 826.1,240.1 826.4,241.3 826.8,242.4 827.2,243.6 827.6,244.7 827.9,245.8 828.3,247.0 828.7,248.1 829.1,249.2 829.6,250.4 830.0,251.5 830.4,252.6 830.8,253.7 831.3,254.8 831.7,256.0 832.2,257.1 832.6,258.2 833.1,259.3 833.6,260.4 834.1,261.5 834.6,262.5 835.1,263.6 835.6,264.7 836.1,265.8 836.7,266.8 837.2,267.9 837.8,268.9 838.4,270.0 839.0,271.0 839.6,272.1 840.2,273.1 840.8,274.1 841.4,275.2 842.1,276.2 842.7,277.2 843.4,278.2 844.1,279.2 844.8,280.1 845.5,281.1 846.2,282.1 846.9,283.0 847.7,284.0 848.4,284.9 849.2,285.8 850.0,286.7 850.8,287.6 851.6,288.5 852.4,289.4 853.2,290.2 854.1,291.1 854.9,291.9 855.8,292.7 856.7,293.5 857.5,294.3 858.5,295.1 859.4,295.8 860.3,296.6 861.2,297.3 862.2,298.0 863.2,298.7 864.2,299.3 865.1,300.0 866.1,300.6 867.2,301.2 868.2,301.8 869.2,302.3 870.3,302.9 871.4,303.4 872.4,303.9 873.5,304.4 874.6,304.8 875.8,305.3 876.9,305.7 878.0,306.1 879.2,306.4 880.3,306.8 881.5,307.1 882.7,307.4 883.8,307.7 885.0,308.0 886.2,308.3 887.4,308.5 888.6,308.8 889.8,309.0 891.0,309.2 892.2,309.4 893.4,309.6 894.6,309.8 895.8,309.9 897.0,310.1 898.2,310.2 899.4,310.4 900.6,310.5 901.8,310.6 903.0,310.7 904.1,310.9 905.3,311.0 906.5,311.0 907.7,311.1 908.9,311.2 910.1,311.3 911.3,311.3 912.5,311.4 913.7,311.4 914.9,311.5 916.1,311.5 917.3,311.6 918.5,311.6 919.7,311.6 920.8,311.6 922.0,311.7 923.2,311.7 924.4,311.7 925.6,311.7 926.8,311.7 928.0,311.7 929.2,311.7 930.4,311.7 931.6,311.7 932.8,311.7 934.0,311.7 935.2,311.7 936.4,311.7 937.6,311.6 938.8,311.6 940.0,311.6 941.2,311.6 942.4,311.6 943.6,311.6 944.8,311.6 946.0,311.6 947.2,311.6 948.4,311.5 949.6,311.5 950.8,311.5 952.0,311.5 953.2,311.5 954.4,311.5 955.6,311.5 956.8,311.5 958.0,311.5 959.2,311.5 960.4,311.5 961.6,311.6 962.8,311.6 964.0,311.6 965.2,311.6 966.4,311.6 967.6,311.7 968.8,311.7 970.0,311.7 971.2,311.8 972.4,311.8 973.6,311.9 974.8,312.0 976.0,312.0 977.2,312.1 978.3,312.2 979.5,312.2 980.7,312.3 981.9,312.4 983.1,312.5 984.3,312.6 985.5,312.7 986.7,312.8 987.9,313.0 989.1,313.1 990.3,313.2 991.5,313.4 992.6,313.5 993.8,313.7 995.0,313.9 996.2,314.0 997.4,314.2 998.6,314.4 999.7,314.6 1000.9,314.8 1002.1,315.1 1003.3,315.3 1004.5,315.5 1005.6,315.8 1006.8,316.1 1008.0,316.3 1009.2,316.6 1010.3,316.9 1011.5,317.2" stroke="#166ddf"/>
</g>
<line x1="773.6" y1="23.4" x2="773.6" y2="324" stroke="#000" stroke-width="2.2" stroke-dasharray="12.7 9.57"/>
<line x1="372" y1="281.2" x2="422.6" y2="281.2" stroke="#000" stroke-width="2.8"/>
<path d="M359.9,281.2 L374.2,277.2 L373.4,281.2 L374.2,285.2 Z" fill="#000"/>
<rect x="52.8" y="1.2" width="440.70" height="323.30" fill="none" stroke="#000" stroke-width="2.5"/>
<line x1="199.70" y1="324.5" x2="199.70" y2="318.70" stroke="#000" stroke-width="2.1"/>
<line x1="199.70" y1="1.2" x2="199.70" y2="7.00" stroke="#000" stroke-width="2.1"/>
<line x1="346.60" y1="324.5" x2="346.60" y2="318.70" stroke="#000" stroke-width="2.1"/>
<line x1="346.60" y1="1.2" x2="346.60" y2="7.00" stroke="#000" stroke-width="2.1"/>
<line x1="126.25" y1="324.5" x2="126.25" y2="321.70" stroke="#000" stroke-width="2.1"/>
<line x1="126.25" y1="1.2" x2="126.25" y2="4.00" stroke="#000" stroke-width="2.1"/>
<line x1="273.15" y1="324.5" x2="273.15" y2="321.70" stroke="#000" stroke-width="2.1"/>
<line x1="273.15" y1="1.2" x2="273.15" y2="4.00" stroke="#000" stroke-width="2.1"/>
<line x1="420.05" y1="324.5" x2="420.05" y2="321.70" stroke="#000" stroke-width="2.1"/>
<line x1="420.05" y1="1.2" x2="420.05" y2="4.00" stroke="#000" stroke-width="2.1"/>
<rect x="571.0" y="1.2" width="441.10" height="323.10" fill="none" stroke="#000" stroke-width="2.5"/>
<line x1="718.03" y1="324.3" x2="718.03" y2="318.50" stroke="#000" stroke-width="2.1"/>
<line x1="718.03" y1="1.2" x2="718.03" y2="7.00" stroke="#000" stroke-width="2.1"/>
<line x1="865.07" y1="324.3" x2="865.07" y2="318.50" stroke="#000" stroke-width="2.1"/>
<line x1="865.07" y1="1.2" x2="865.07" y2="7.00" stroke="#000" stroke-width="2.1"/>
<line x1="644.52" y1="324.3" x2="644.52" y2="321.50" stroke="#000" stroke-width="2.1"/>
<line x1="644.52" y1="1.2" x2="644.52" y2="4.00" stroke="#000" stroke-width="2.1"/>
<line x1="791.55" y1="324.3" x2="791.55" y2="321.50" stroke="#000" stroke-width="2.1"/>
<line x1="791.55" y1="1.2" x2="791.55" y2="4.00" stroke="#000" stroke-width="2.1"/>
<line x1="938.58" y1="324.3" x2="938.58" y2="321.50" stroke="#000" stroke-width="2.1"/>
<line x1="938.58" y1="1.2" x2="938.58" y2="4.00" stroke="#000" stroke-width="2.1"/>
<line x1="251.1" y1="22.0" x2="289.9" y2="22.0" stroke="#4a4a4a" stroke-width="3.5"/>
<line x1="251.1" y1="49.5" x2="289.9" y2="49.5" stroke="#ef383c" stroke-width="3.5"/>
<line x1="251.1" y1="74.8" x2="289.9" y2="74.8" stroke="#166ddf" stroke-width="3.5"/>
<line x1="797.5" y1="24.1" x2="836.3" y2="24.1" stroke="#4a4a4a" stroke-width="3.5"/>
<line x1="797.5" y1="51.9" x2="836.3" y2="51.9" stroke="#ef383c" stroke-width="3.5"/>
<line x1="797.5" y1="77.3" x2="836.3" y2="77.3" stroke="#166ddf" stroke-width="3.5"/>
<rect x="97" y="73.90" width="22.50" height="2.4" fill="#000"/>
<rect x="156" y="73.80" width="22.00" height="2.4" fill="#000"/>
<rect x="614" y="71.70" width="22.20" height="2.4" fill="#000"/>
<rect x="675.6" y="71.90" width="21.70" height="2.4" fill="#000"/>
<text id="ta45" transform="translate(34.06,356.45) scale(1.0562,1)" font-size="34.848">45</text>
<text id="ta90" transform="translate(180.56,356.11) scale(1.1057,1)" font-size="34.328">90</text>
<text id="ta135" transform="translate(319.34,356.46) scale(1.0865,1)" font-size="34.328">135</text>
<text id="ta180" transform="translate(457.65,356.12) scale(1.133,1)" font-size="33.824">180</text>
<text id="tb45" transform="translate(551.36,353.85) scale(1.0562,1)" font-size="34.848">45</text>
<text id="tb90" transform="translate(698.06,353.51) scale(1.1057,1)" font-size="34.328">90</text>
<text id="tb135" transform="translate(836.32,353.86) scale(1.095,1)" font-size="34.328">135</text>
<text id="tb180" transform="translate(971.58,353.52) scale(1.092,1)" font-size="33.824">180</text>
<text id="pa" transform="translate(65.6,42.23) scale(1.0785,1)" font-size="37.0">(a)</text>
<text id="pb" transform="translate(586.19,40.74) scale(1.0757,1)" font-size="37.444">(b)</text>
<text id="sa1" transform="translate(61.25,83.69) scale(1.0652,1)" font-size="35.522">Si</text>
<text id="sa2" transform="translate(123.52,84.06) scale(1.0681,1)" font-size="36.866">O</text>
<text id="sa3" transform="translate(181.13,83.69) scale(1.0728,1)" font-size="35.522">Si</text>
<text id="sb1" transform="translate(581.96,81.08) scale(1.0774,1)" font-size="35.821">O</text>
<text id="sb2" transform="translate(639.35,81.28) scale(1.0563,1)" font-size="35.821">Si</text>
<text id="sb3" transform="translate(702.06,81.27) scale(1.0641,1)" font-size="36.269">O</text>
<text id="la1" transform="translate(296.55,31.78) scale(1.0869,1)" font-size="30.896">S5</text>
<text id="la2" transform="translate(298.92,59.31) scale(1.1845,1)" font-size="28.75" style="font-style:italic">ε</text>
<text id="la3" transform="translate(318.89,64.08) scale(1.2431,1)" font-size="35.6">=</text>
<text id="la4" transform="translate(349.43,59.03) scale(1.2056,1)" font-size="28.358">0.3</text>
<text id="la5" transform="translate(298.63,84.34) scale(1.228,1)" font-size="27.91">0.3</text>
<text id="la6" transform="translate(354.56,84.61) scale(1.1885,1)" font-size="28.857">unload</text>
<text id="lb1" transform="translate(843.31,34.78) scale(1.0596,1)" font-size="30.896">S5</text>
<text id="lb2" transform="translate(845.19,61.82) scale(1.2683,1)" font-size="27.917" style="font-style:italic">ε</text>
<text id="lb3" transform="translate(865.56,66.58) scale(1.2611,1)" font-size="35.6">=</text>
<text id="lb4" transform="translate(896.44,61.93) scale(1.2026,1)" font-size="28.358">0.3</text>
<text id="lb5" transform="translate(844.83,87.13) scale(1.2053,1)" font-size="28.507">0.3</text>
<text id="lb6" transform="translate(900.65,87.4) scale(1.1698,1)" font-size="29.571">unload</text>
<text transform="rotate(-90)" x="-305.74 -277.95 -257.55 -238.47 -228.54 -220.54 -198.25 -178.91 -168.44 -152.19 -138.81 -124.66 -109.85 -87.73 -68.24 -55.01 -44.16 -24.60" y="28.47" font-size="37.23">Angle distribution</text>
<text transform="rotate(-90)" x="-312.42 -284.64 -264.16 -245.13 -235.09 -227.09 -204.66 -185.36 -174.80 -158.56 -145.10 -130.93 -115.99 -93.79 -74.33 -61.05 -50.06 -30.44" y="552.66" font-size="36.46">Angle distribution</text>
<text x="196.23 224.34 243.28 263.95 273.53" y="397.48" font-size="37.69">Angle</text>
<text x="311.44" y="397.48" font-size="37.69">(</text>
<text x="337.49" y="397.48" font-size="37.69">)</text>
<line x1="305.60" y1="372.4" x2="293.40" y2="406" stroke="#000" stroke-width="1.75"/>
<circle cx="330.20" cy="378.5" r="2.95" fill="none" stroke="#000" stroke-width="1.15"/>
<text x="709.94 738.06 757.03 777.67 787.27" y="397.3" font-size="36.6">Angle</text>
<text x="825.19" y="397.3" font-size="36.6">(</text>
<text x="851.22" y="397.3" font-size="36.6">)</text>
<line x1="819.30" y1="372.4" x2="807.10" y2="406" stroke="#000" stroke-width="1.75"/>
<circle cx="843.90" cy="378.5" r="2.95" fill="none" stroke="#000" stroke-width="1.15"/>
</svg></body></html>
